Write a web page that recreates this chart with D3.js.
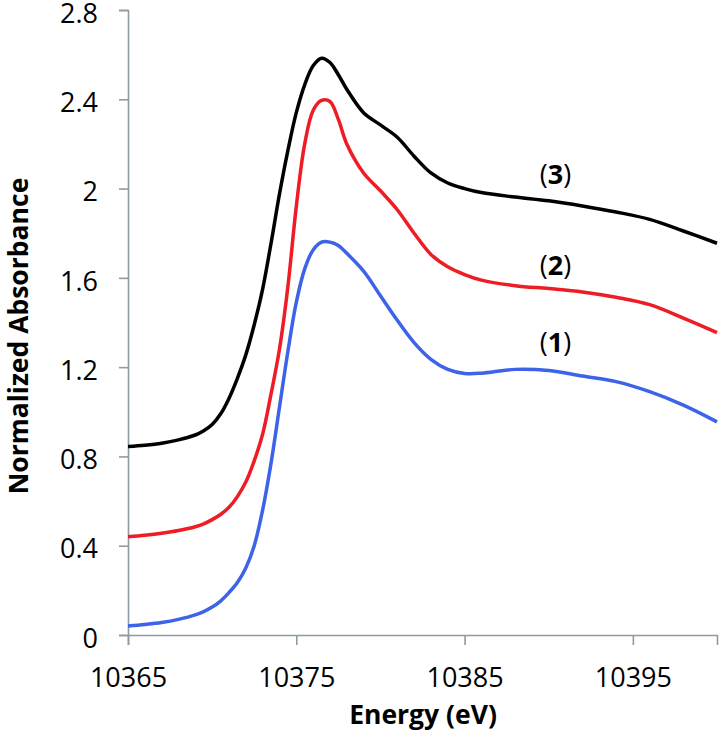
<!DOCTYPE html>
<meta charset="utf-8">
<head>
<script src="https://d3js.org/d3.v7.min.js"></script>
<style>
  body { margin: 0; background: #fff; }
  text { font-family: "Open Sans", "Liberation Sans", sans-serif; }
</style>
</head>
<body>
<svg id="chart" width="722" height="732"></svg>

<script>
// XANES spectra
var energy = [10365, 10366, 10367, 10368, 10369, 10369.5, 10370, 10370.5, 10371, 10371.5,
  10372, 10372.5, 10373, 10373.5, 10374, 10374.5, 10375, 10375.5, 10376, 10376.5,
  10377, 10377.5, 10378, 10379, 10380, 10381, 10382, 10383, 10384, 10385,
  10386, 10388, 10390, 10392, 10394, 10396, 10398, 10400];

var sample1 = [0.04, 0.047, 0.056, 0.07, 0.09, 0.105, 0.125, 0.152, 0.19, 0.235,
  0.30, 0.40, 0.56, 0.77, 1.02, 1.27, 1.49, 1.64, 1.725, 1.76,
  1.76, 1.745, 1.71, 1.63, 1.52, 1.41, 1.31, 1.235, 1.19, 1.172,
  1.173, 1.19, 1.185, 1.16, 1.135, 1.09, 1.03, 0.955];

var sample2 = [0.44, 0.447, 0.456, 0.468, 0.485, 0.498, 0.517, 0.54, 0.572, 0.62,
  0.685, 0.78, 0.90, 1.08, 1.28, 1.56, 1.92, 2.20, 2.35, 2.395,
  2.39, 2.31, 2.20, 2.07, 1.99, 1.905, 1.80, 1.705, 1.65, 1.615,
  1.59, 1.565, 1.552, 1.537, 1.513, 1.48, 1.42, 1.355];

var sample3 = [0.844, 0.85, 0.859, 0.874, 0.896, 0.915, 0.943, 0.99, 1.06, 1.15,
  1.255, 1.39, 1.55, 1.755, 1.975, 2.17, 2.34, 2.465, 2.55, 2.584,
  2.565, 2.51, 2.445, 2.34, 2.285, 2.23, 2.145, 2.07, 2.025, 2.00,
  1.982, 1.962, 1.945, 1.922, 1.895, 1.862, 1.81, 1.755];

var seriesNames = ["1", "2", "3"];
var seriesColors = ["#3c63e8", "#ee1c25", "#000000"];
var labelEnergy = [10390.4, 10390.4, 10390.4];
var labelValue = [1.268, 1.613, 2.02];

var xTicks = [10365, 10375, 10385, 10395];
var yTicks = [0, 0.4, 0.8, 1.2, 1.6, 2, 2.4, 2.8];

var svg = d3.select("#chart");

var x = d3.scaleLinear().domain([10365, 10400]).range([128, 717]);
var y = d3.scaleLinear().domain([0, 2.8]).range([635, 10]);

var axisColor = "#8d9ca3";

// y axis
var yAxis = svg.append("g")
  .attr("transform", "translate(128,0)")
  .call(d3.axisLeft(y).tickValues(yTicks).tickSize(9).tickPadding(21)
    .tickFormat(function(d) { return d3.format("")(+d.toFixed(1)); }));

// x axis
var xAxis = svg.append("g")
  .attr("transform", "translate(0,635)")
  .call(d3.axisBottom(x).tickValues(xTicks).tickSize(10).tickPadding(22)
    .tickFormat(d3.format("d")));

[xAxis, yAxis].forEach(function(a) {
  a.select(".domain").attr("stroke", axisColor).attr("stroke-width", 1.6);
  a.selectAll(".tick line").attr("stroke", axisColor).attr("stroke-width", 1.6);
  a.selectAll(".tick text")
    .attr("fill", "#000")
    .style("font-size", "27px")
    .style("font-family", "'Open Sans', sans-serif");
});
yAxis.selectAll(".tick text").attr("dy", "0.45em");
xAxis.selectAll(".tick text").attr("dy", "0.75em");

// lines
var series = [sample1, sample2, sample3];
var line = d3.line()
  .x(function(d, i) { return x(energy[i]); })
  .y(function(d) { return y(d); })
  .curve(d3.curveCatmullRom.alpha(0.5));

svg.append("g")
  .selectAll("path")
  .data(series)
  .enter()
  .append("path")
    .attr("d", line)
    .attr("fill", "none")
    .attr("stroke", function(d, i) { return seriesColors[i]; })
    .attr("stroke-width", 3.5)
    .attr("stroke-linejoin", "round");

// series labels
var lab = svg.append("g")
  .selectAll("text")
  .data(seriesNames)
  .enter()
  .append("text")
    .attr("x", function(d, i) { return x(labelEnergy[i]); })
    .attr("y", function(d, i) { return y(labelValue[i]); })
    .attr("text-anchor", "middle")
    .style("font-size", "27px");
lab.append("tspan").text("(");
lab.append("tspan").style("font-weight", "bold").text(function(d) { return d; });
lab.append("tspan").text(")");

// axis titles
svg.append("text")
  .attr("x", 423)
  .attr("y", 724)
  .attr("text-anchor", "middle")
  .style("font-size", "26.5px")
  .style("font-weight", "bold")
  .text("Energy (eV)");

svg.append("text")
  .attr("transform", "translate(28,336) rotate(-90)")
  .attr("text-anchor", "middle")
  .style("font-size", "26.5px")
  .style("font-weight", "bold")
  .text("Normalized Absorbance");
</script>
</body>
